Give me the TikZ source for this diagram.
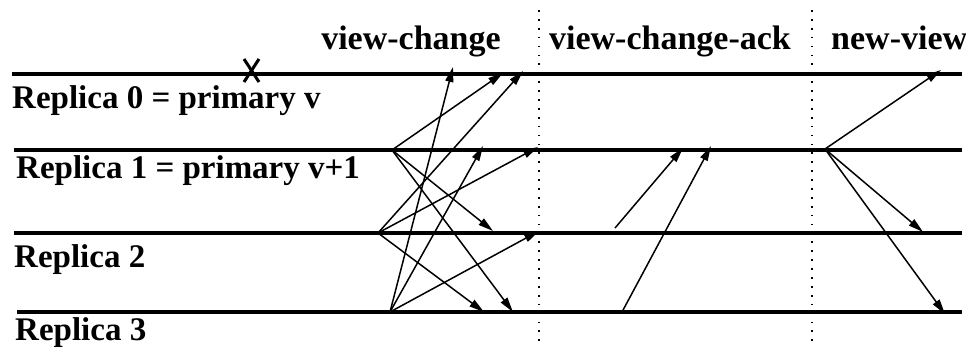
\documentclass[tikz,border=0pt]{standalone}
\usepackage{fontspec}
\setmainfont{Liberation Serif}
\usetikzlibrary{arrows.meta}
\begin{document}
\begin{tikzpicture}[x=1pt,y=-1pt,
  timeline/.style={line width=3.2pt},
  msg/.style={line width=1.5pt,-{Triangle[length=15pt,width=8pt]}},
  phase/.style={line width=1.7pt,dash pattern=on 1.7pt off 7.2pt},
  lbl/.style={anchor=base west,inner sep=0pt,font=\fontsize{33}{36}\selectfont\bfseries},
  hdr/.style={anchor=base,inner sep=0pt,font=\fontsize{34}{38}\selectfont\bfseries},
  crash/.style={line width=3pt}]
\useasboundingbox (0,0) rectangle (966,351);
% timelines
\coordinate (r0s) at (12,74);  \coordinate (r0e) at (962,74);
\coordinate (r1s) at (14,150); \coordinate (r1e) at (962,150);
\coordinate (r2s) at (14,233); \coordinate (r2e) at (962,233);
\coordinate (r3s) at (17,312); \coordinate (r3e) at (962,312);
\draw[timeline] (r0s) -- (r0e);
\draw[timeline] (r1s) -- (r1e);
\draw[timeline] (r2s) -- (r2e);
\draw[timeline] (r3s) -- (r3e);
% labels
\node[lbl] (l0) at (12,108) {Replica 0 = primary v};
\node[lbl] (l1) at (16,178) {Replica 1 = primary v+1};
\node[lbl] (l2) at (14,267) {Replica 2};
\node[lbl] (l3) at (15,340) {Replica 3};
% phase separators
\coordinate (d1t) at (539,10); \coordinate (d1b) at (539,346);
\coordinate (d2t) at (812,10); \coordinate (d2b) at (812,346);
\draw[phase] (d1t) -- (d1b);
\draw[phase] (d2t) -- (d2b);
% headers
\node[hdr] (h1) at (411,49) {view-change};
\node[hdr] (h2) at (670,49) {view-change-ack};
\node[hdr,anchor=base west] (h3) at (831,49) {new-view};
% crash mark
\coordinate (xa) at (244,59); \coordinate (xb) at (259,82);
\coordinate (xc) at (259,59); \coordinate (xd) at (244,82);
\draw[crash] (xa) -- (xb);
\draw[crash] (xc) -- (xd);
% view-change sources
\coordinate (v1) at (392,150);
\coordinate (v2) at (378,233);
\coordinate (v3) at (390,312);
% view-change targets
\coordinate (t10) at (503,73);
\coordinate (t12) at (493,231);
\coordinate (t13) at (513,312);
\coordinate (t20) at (523,71);
\coordinate (t21) at (538,147);
\coordinate (t23) at (484,312);
\coordinate (t30) at (453,67);
\coordinate (t31) at (483,146);
\coordinate (t32) at (539,231);
\draw[msg] (v1) -- (t10);
\draw[msg] (v1) -- (t12);
\draw[msg] (v1) -- (t13);
\draw[msg] (v2) -- (t20);
\draw[msg] (v2) -- (t21);
\draw[msg] (v2) -- (t23);
\draw[msg] (v3) -- (t30);
\draw[msg] (v3) -- (t31);
\draw[msg] (v3) -- (t32);
% view-change-ack
\coordinate (a2) at (615,228); \coordinate (a2t) at (683,148);
\coordinate (a3) at (622,312); \coordinate (a3t) at (711,146);
\draw[msg] (a2) -- (a2t);
\draw[msg] (a3) -- (a3t);
% new-view
\coordinate (n1) at (825,149);
\coordinate (n0t) at (941,70);
\coordinate (n2t) at (923,232);
\coordinate (n3t) at (945,314);
\draw[msg] (n1) -- (n0t);
\draw[msg] (n1) -- (n2t);
\draw[msg] (n1) -- (n3t);
\end{tikzpicture}
\end{document}
